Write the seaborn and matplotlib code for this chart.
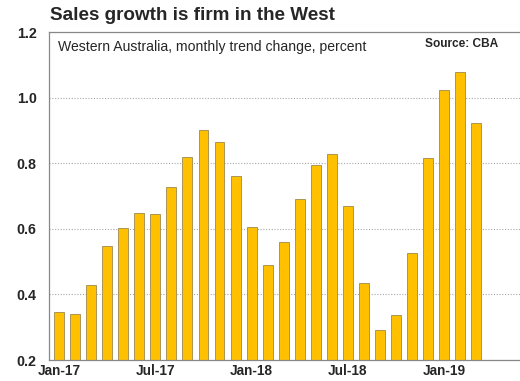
import matplotlib
matplotlib.use("Agg")
import matplotlib.pyplot as plt
import seaborn as sns
import pandas as pd
from matplotlib.ticker import MultipleLocator, FixedLocator

months = ["Jan-17", "Feb-17", "Mar-17", "Apr-17", "May-17", "Jun-17", "Jul-17", "Aug-17",
          "Sep-17", "Oct-17", "Nov-17", "Dec-17", "Jan-18", "Feb-18", "Mar-18", "Apr-18",
          "May-18", "Jun-18", "Jul-18", "Aug-18", "Sep-18", "Oct-18", "Nov-18", "Dec-18",
          "Jan-19", "Feb-19", "Mar-19"]
values = [0.345, 0.339, 0.430, 0.548, 0.603, 0.649, 0.644, 0.726, 0.819, 0.900, 0.864,
          0.761, 0.606, 0.489, 0.561, 0.691, 0.793, 0.827, 0.670, 0.434, 0.291, 0.336,
          0.527, 0.815, 1.024, 1.078, 0.922]
tick_labels = ["Jan-17", "Jul-17", "Jan-18", "Jul-18", "Jan-19"]
y_ticks = [0.2, 0.4, 0.6, 0.8, 1.0, 1.2]

sns.set_style("white")
plt.rcParams["font.family"] = ["Liberation Sans", "DejaVu Sans"]

df = pd.DataFrame({"month": months, "value": values})

fig = plt.figure(figsize=(5.2, 3.81), dpi=100)
ax = fig.add_axes([49 / 520, 21 / 381, 1 - 49 / 520 + 0.02, 328 / 381])
ax.set_axisbelow(True)

sns.barplot(data=df, x="month", y="value", order=months, color="#FFC000",
            saturation=1, width=0.62, edgecolor="#9C8A50", linewidth=0.6, ax=ax)

ax.set_ylim(0.2, 1.2)
ax.set_xlim(-0.64, 29.4)
ax.set_yticks(y_ticks)
ax.set_yticklabels([f"{v:.1f}" for v in y_ticks], fontsize=10.3, fontweight="bold")
ax.yaxis.grid(True, color="#A8A8A8", linestyle=(0, (1, 1.5)), linewidth=0.8)

pos = [months.index(t) for t in tick_labels]
ax.xaxis.set_major_locator(FixedLocator(pos))
ax.set_xticklabels(tick_labels, fontsize=9.8, fontweight="bold")
ax.xaxis.set_minor_locator(MultipleLocator(1))
ax.tick_params(axis="x", which="both", direction="in", length=4, color="#888888", pad=3)
ax.tick_params(axis="y", direction="out", length=5, color="#888888", pad=4)

for side in ["left", "bottom", "top"]:
    ax.spines[side].set_color("#888888")
    ax.spines[side].set_linewidth(0.9)
ax.spines["right"].set_visible(False)
ax.set_xlabel("")
ax.set_ylabel("")

fig.text(50 / 520, 1 - 16 / 381, "Sales growth is firm in the West", fontsize=13.6,
         fontweight="bold", va="center", ha="left")
fig.text(58 / 520, 1 - 47 / 381, "Western Australia, monthly trend change, percent",
         fontsize=10.1, va="center", ha="left")
fig.text(498 / 520, 1 - 44 / 381, "Source: CBA", fontsize=8.6, fontweight="bold",
         va="center", ha="right")

fig.savefig("out.png", dpi=100)
